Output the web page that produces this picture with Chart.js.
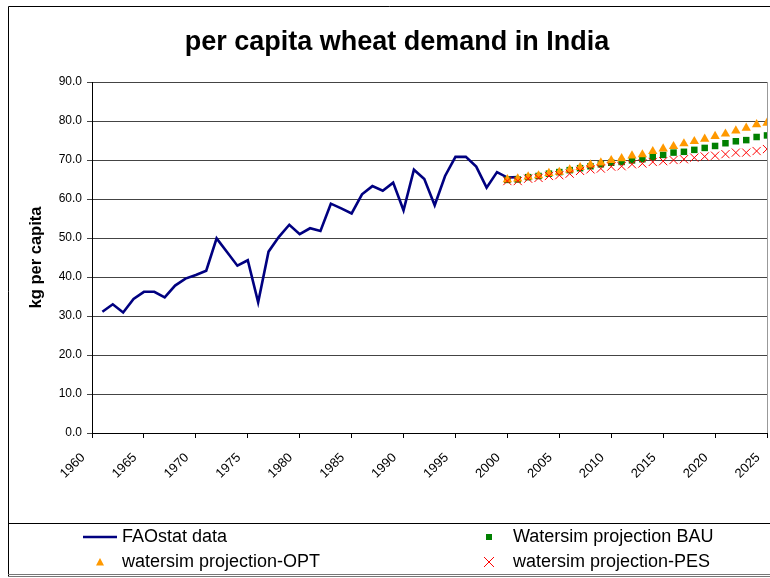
<!DOCTYPE html>
<html><head><meta charset="utf-8">
<script src="https://cdn.jsdelivr.net/npm/chart.js@4.4.0/dist/chart.umd.min.js"></script>
<style>html,body{margin:0;padding:0;background:#fff;}#wrap{width:770px;height:578px;position:relative;}</style>
</head><body><div id="wrap"><canvas id="c" width="770" height="578"></canvas></div>
<script>
const chartTitle = 'per capita wheat demand in India';
const yAxisTitle = 'kg per capita';
const xTicks = [1960,1965,1970,1975,1980,1985,1990,1995,2000,2005,2010,2015,2020,2025];
const yTicks = [0,10,20,30,40,50,60,70,80,90];
const faoYears = [1961,1962,1963,1964,1965,1966,1967,1968,1969,1970,1971,1972,1973,1974,1975,1976,1977,1978,1979,1980,1981,1982,1983,1984,1985,1986,1987,1988,1989,1990,1991,1992,1993,1994,1995,1996,1997,1998,1999,2000,2001];
const faoValues = [31.1,33.0,30.9,34.4,36.2,36.2,34.8,37.8,39.6,40.5,41.6,49.9,46.4,42.9,44.3,33.5,46.5,50.3,53.4,51.0,52.5,51.8,58.8,57.6,56.3,61.2,63.3,62.1,64.2,57.1,67.5,65.1,58.4,65.9,70.8,70.8,68.3,62.9,66.9,65.5,65.6];
const projYears = [2000,2001,2002,2003,2004,2005,2006,2007,2008,2009,2010,2011,2012,2013,2014,2015,2016,2017,2018,2019,2020,2021,2022,2023,2024,2025];
const bauValues = [64.9,65.0,65.6,65.9,66.5,66.9,67.4,67.9,68.4,68.9,69.3,69.5,69.9,70.2,70.8,71.3,71.9,72.1,72.6,73.1,73.6,74.3,74.8,75.1,75.9,76.3];
const optValues = [65.0,65.2,65.7,66.0,66.6,66.9,67.5,68.1,68.8,69.3,69.9,70.4,71.1,71.4,72.2,72.9,73.5,74.2,74.8,75.4,76.1,76.7,77.5,78.2,79.1,79.5];
const pesValues = [64.6,64.6,65.2,65.4,65.9,66.1,66.5,67.2,67.6,67.8,68.3,68.4,68.9,69.1,69.5,69.7,70.0,70.2,70.6,70.9,71.1,71.5,71.9,71.9,72.3,72.8];
const legendLabels = ['FAOstat data','Watersim projection BAU','watersim projection-OPT','watersim projection-PES'];

const NAVY='#000080', GREEN='#008000', ORANGE='#FF9900', RED='#FF0000';
const pts = (xs, ys) => xs.map((x,i)=>({x:x, y:ys[i]}));
const PLOT_RIGHT = 767;

const fixArea = {
  id:'fixArea',
  afterLayout(chart){
    const ca = chart.chartArea;
    ca.right = PLOT_RIGHT; ca.width = ca.right - ca.left;
    const x = chart.scales.x;
    x.right = PLOT_RIGHT; x.width = x.right - x.left;
    x.configure();
  }
};

const decor = {
  id:'decor',
  afterDraw(chart){
    const ctx = chart.ctx, ca = chart.chartArea;
    ctx.save();
    ctx.strokeStyle='#000'; ctx.lineWidth=1;
    ctx.beginPath();
    ctx.moveTo(8.5,577); ctx.lineTo(8.5,6.5); ctx.lineTo(770,6.5);
    ctx.moveTo(8,523.5); ctx.lineTo(770,523.5);
    ctx.stroke();
    ctx.strokeStyle='#777';
    ctx.beginPath(); ctx.moveTo(8,574.5); ctx.lineTo(770,574.5); ctx.moveTo(8,576.5); ctx.lineTo(770,576.5); ctx.stroke();
    ctx.strokeStyle='#999';
    ctx.beginPath(); ctx.moveTo(Math.round(ca.right)+0.5, ca.top); ctx.lineTo(Math.round(ca.right)+0.5, ca.bottom); ctx.stroke();
    ctx.fillStyle='#000';
    ctx.font='bold 27px "Liberation Sans", Arial, sans-serif';
    ctx.textAlign='center'; ctx.textBaseline='middle';
    ctx.fillText(chartTitle, 397, 43);
    ctx.save();
    ctx.translate(36, (ca.top+ca.bottom)/2);
    ctx.rotate(-Math.PI/2);
    ctx.font='bold 16.5px "Liberation Sans", Arial, sans-serif';
    ctx.fillText(yAxisTitle, 0, 0);
    ctx.restore();
    ctx.font='18px "Liberation Sans", Arial, sans-serif';
    ctx.textAlign='left'; ctx.textBaseline='middle';
    const r1=537, r2=562;
    ctx.strokeStyle=NAVY; ctx.lineWidth=2.5;
    ctx.beginPath(); ctx.moveTo(83,r1); ctx.lineTo(117,r1); ctx.stroke();
    ctx.fillStyle='#000'; ctx.fillText(legendLabels[0],122,r1);
    ctx.fillStyle=GREEN; ctx.fillRect(486,r1-3,6,6);
    ctx.fillStyle='#000'; ctx.fillText(legendLabels[1],513,r1);
    ctx.fillStyle=ORANGE;
    ctx.beginPath(); ctx.moveTo(100,r2-4); ctx.lineTo(104,r2+3.5); ctx.lineTo(96,r2+3.5); ctx.closePath(); ctx.fill();
    ctx.fillStyle='#000'; ctx.fillText(legendLabels[2],122,r2);
    ctx.strokeStyle=RED; ctx.lineWidth=1;
    ctx.beginPath(); ctx.moveTo(484,r2-5); ctx.lineTo(494,r2+5); ctx.moveTo(494,r2-5); ctx.lineTo(484,r2+5); ctx.stroke();
    ctx.fillStyle='#000'; ctx.fillText(legendLabels[3],513,r2);
    ctx.restore();
  }
};

new Chart(document.getElementById('c'), {
  type:'scatter',
  data:{datasets:[
    {label:legendLabels[0], data:pts(faoYears,faoValues), showLine:true, borderColor:NAVY, backgroundColor:NAVY, borderWidth:2.6, pointRadius:0, tension:0, order:4},
    {label:legendLabels[1], data:pts(projYears,bauValues), pointStyle:'rect', pointRadius:4.6, backgroundColor:GREEN, borderColor:GREEN, borderWidth:0, order:3},
    {label:legendLabels[2], data:pts(projYears,optValues), pointStyle:'triangle', pointRadius:5.4, backgroundColor:ORANGE, borderColor:ORANGE, borderWidth:0, order:2},
    {label:legendLabels[3], data:pts(projYears,pesValues), pointStyle:'crossRot', pointRadius:5.8, backgroundColor:RED, borderColor:RED, borderWidth:1, order:1}
  ]},
  options:{
    responsive:false, animation:false, devicePixelRatio:1,
    layout:{padding:{top:82,right:3,left:0,bottom:0}},
    plugins:{legend:{display:false}, title:{display:false}, tooltip:{enabled:false}},
    scales:{
      x:{type:'linear', min:xTicks[0], max:xTicks[xTicks.length-1],
        afterBuildTicks:s=>{s.ticks=xTicks.map(v=>({value:v}));},
        afterFit:s=>{s.height=145; s.paddingLeft=0; s.paddingRight=0;},
        ticks:{callback:v=>String(v), maxRotation:45, minRotation:45, color:'#000', font:{family:'"Liberation Sans", Arial, sans-serif', size:13}, padding:12, labelOffset:-9},
        grid:{drawOnChartArea:false, drawTicks:true, tickLength:5, color:'#000'},
        border:{color:'#000', width:1}
      },
      y:{type:'linear', min:yTicks[0], max:yTicks[yTicks.length-1],
        afterBuildTicks:s=>{s.ticks=yTicks.map(v=>({value:v}));},
        afterFit:s=>{s.width=92; s.paddingTop=0; s.paddingBottom=0;},
        ticks:{callback:v=>Number(v).toFixed(1), color:'#000', font:{family:'"Liberation Sans", Arial, sans-serif', size:12}, padding:5},
        grid:{color:'#444', lineWidth:1, tickLength:5, drawTicks:true},
        border:{color:'#000', width:1}
      }
    }
  },
  plugins:[fixArea, decor]
});
</script></body></html>
